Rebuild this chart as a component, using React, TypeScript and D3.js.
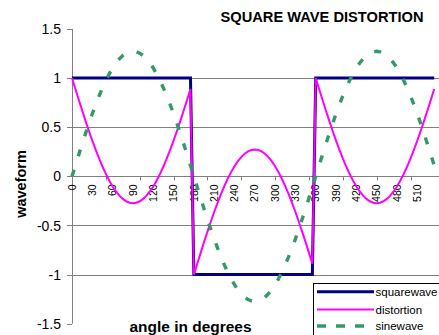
import React from "react";
import * as d3 from "d3";

const angles = [0,5,10,15,20,25,30,35,40,45,50,55,60,65,70,75,80,85,90,95,100,105,110,115,120,125,130,135,140,145,150,155,160,165,170,175,
180,185,190,195,200,205,210,215,220,225,230,235,240,245,250,255,260,265,270,275,280,285,290,295,300,305,310,315,320,325,330,335,340,345,350,355,
360,365,370,375,380,385,390,395,400,405,410,415,420,425,430,435,440,445,450,455,460,465,470,475,480,485,490,495,500,505,510,515,520,525,530,535];

const squarewave = [1,1,1,1,1,1,1,1,1,1,1,1,1,1,1,1,1,1,1,1,1,1,1,1,1,1,1,1,1,1,1,1,1,1,1,1,
-1,-1,-1,-1,-1,-1,-1,-1,-1,-1,-1,-1,-1,-1,-1,-1,-1,-1,-1,-1,-1,-1,-1,-1,-1,-1,-1,-1,-1,-1,-1,-1,-1,-1,-1,-1,
1,1,1,1,1,1,1,1,1,1,1,1,1,1,1,1,1,1,1,1,1,1,1,1,1,1,1,1,1,1,1,1,1,1,1,1];

const distortion = [1,0.889,0.779,0.670,0.565,0.462,0.363,0.270,0.182,0.100,0.025,-0.043,-0.103,-0.154,-0.196,-0.230,-0.254,-0.268,-0.273,-0.268,-0.254,-0.230,-0.196,-0.154,-0.103,-0.043,0.025,0.100,0.182,0.270,0.363,0.462,0.565,0.670,0.779,0.889,
-1,-0.889,-0.779,-0.670,-0.565,-0.462,-0.363,-0.270,-0.182,-0.100,-0.025,0.043,0.103,0.154,0.196,0.230,0.254,0.268,0.273,0.268,0.254,0.230,0.196,0.154,0.103,0.043,-0.025,-0.100,-0.182,-0.270,-0.363,-0.462,-0.565,-0.670,-0.779,-0.889,
1,0.889,0.779,0.670,0.565,0.462,0.363,0.270,0.182,0.100,0.025,-0.043,-0.103,-0.154,-0.196,-0.230,-0.254,-0.268,-0.273,-0.268,-0.254,-0.230,-0.196,-0.154,-0.103,-0.043,0.025,0.100,0.182,0.270,0.363,0.462,0.565,0.670,0.779,0.889];

const sinewave = [0,0.111,0.221,0.330,0.435,0.538,0.637,0.730,0.818,0.900,0.975,1.043,1.103,1.154,1.196,1.230,1.254,1.268,1.273,1.268,1.254,1.230,1.196,1.154,1.103,1.043,0.975,0.900,0.818,0.730,0.637,0.538,0.435,0.330,0.221,0.111,
0,-0.111,-0.221,-0.330,-0.435,-0.538,-0.637,-0.730,-0.818,-0.900,-0.975,-1.043,-1.103,-1.154,-1.196,-1.230,-1.254,-1.268,-1.273,-1.268,-1.254,-1.230,-1.196,-1.154,-1.103,-1.043,-0.975,-0.900,-0.818,-0.730,-0.637,-0.538,-0.435,-0.330,-0.221,-0.111,
0,0.111,0.221,0.330,0.435,0.538,0.637,0.730,0.818,0.900,0.975,1.043,1.103,1.154,1.196,1.230,1.254,1.268,1.273,1.268,1.254,1.230,1.196,1.154,1.103,1.043,0.975,0.900,0.818,0.730,0.637,0.538,0.435,0.330,0.221,0.111];

const xLabels = [0,30,60,90,120,150,180,210,240,270,300,330,360,390,420,450,480,510];
const xTicks = [0,50,100,150,200,250,300,350,400,450,500];
const yTicks = [-1.5,-1,-0.5,0,0.5,1,1.5];
const yGrid = [-1,-0.5,0.5,1];

const title = "SQUARE WAVE DISTORTION";
const xTitle = "angle in degrees";
const yTitle = "waveform";

const series = [
  { name: "squarewave", values: squarewave, color: "#000080", width: 3, dash: "" },
  { name: "distortion", values: distortion, color: "#ff00ff", width: 2, dash: "" },
  { name: "sinewave", values: sinewave, color: "#339966", width: 3.4, dash: "7,14" },
];

export default function App() {
  const W = 439, H = 335;
  const x = d3.scaleLinear().domain([0, 540]).range([72, 437.6]);
  const y = d3.scaleLinear().domain([-1.5, 1.5]).range([323.7, 29]);
  const font = "Liberation Sans, Arial, sans-serif";
  const line = (vals: number[]) =>
    d3.line<number>().x((_, i) => x(angles[i])).y((d) => y(d))(vals) || "";
  const legendY = [291.7, 309.5, 326];
  return (
    <svg width={W} height={H} style={{ position: "absolute", left: 0, top: 0, background: "#fff" }} fontFamily={font}>
      <rect x={0} y={0} width={W} height={H} fill="#fff" />
      {yGrid.map((v) => (
        <line key={v} x1={72} x2={W} y1={Math.round(y(v)) + 0.5} y2={Math.round(y(v)) + 0.5} stroke="#808080" strokeWidth={1} />
      ))}
      {/* y axis */}
      <line x1={72.5} x2={72.5} y1={y(1.5)} y2={y(-1.5)} stroke="#808080" strokeWidth={1} />
      {yTicks.map((v) => (
        <g key={v}>
          <line x1={67} x2={72} y1={Math.round(y(v)) + 0.5} y2={Math.round(y(v)) + 0.5} stroke="#808080" />
          <text x={61} y={y(v)} dy="0.36em" textAnchor="end" fontSize={14} fill="#000">{v}</text>
        </g>
      ))}
      {/* x axis */}
      <line x1={72} x2={W} y1={Math.round(y(0)) + 0.5} y2={Math.round(y(0)) + 0.5} stroke="#808080" strokeWidth={1} />
      {xTicks.map((v) => (
        <line key={v} x1={Math.round(x(v)) + 0.5} x2={Math.round(x(v)) + 0.5} y1={y(0)} y2={y(0) + 4} stroke="#808080" />
      ))}
      {xLabels.map((v) => (
        <text key={v} transform={`translate(${x(v)},${y(0) + 8}) rotate(-90)`} textAnchor="end" dy="0.35em" fontSize={10.5} fill="#000">{v}</text>
      ))}
      {/* series */}
      {series.map((s) => (
        <path key={s.name} d={line(s.values)} fill="none" stroke={s.color} strokeWidth={s.width} strokeDasharray={s.dash || undefined} strokeLinejoin="miter" />
      ))}
      {/* titles */}
      <text x={322} y={22} textAnchor="middle" fontSize={14} fontWeight="bold" fill="#000" textLength={203} lengthAdjust="spacingAndGlyphs">{title}</text>
      <text x={190.5} y={332} textAnchor="middle" fontSize={14.5} fontWeight="bold" fill="#000" textLength={122} lengthAdjust="spacingAndGlyphs">{xTitle}</text>
      <text transform={`translate(26,184) rotate(-90)`} textAnchor="middle" fontSize={14.5} fontWeight="bold" fill="#000">{yTitle}</text>
      {/* legend */}
      <rect x={313.5} y={283.5} width={140} height={60} fill="#fff" stroke="#000" strokeWidth={1} />
      {series.map((s, i) => (
        <g key={s.name}>
          <line x1={317} x2={374} y1={legendY[i]} y2={legendY[i]} stroke={s.color} strokeWidth={s.width} strokeDasharray={s.dash ? "9,10" : undefined} />
          <text x={375.5} y={legendY[i]} dy="0.35em" fontSize={11.5} fill="#000">{s.name}</text>
        </g>
      ))}
    </svg>
  );
}
